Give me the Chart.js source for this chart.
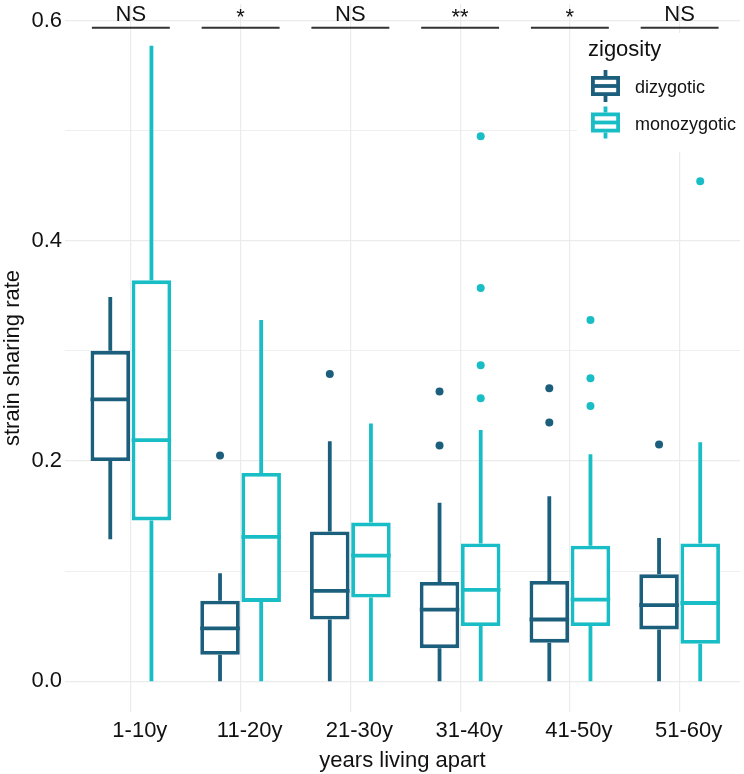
<!DOCTYPE html>
<html>
<head>
<meta charset="utf-8">
<script src="https://cdn.jsdelivr.net/npm/chart.js@4"></script>
<style>
  html, body { margin: 0; padding: 0; background: #fff; }
</style>
</head>
<body>
<canvas id="chart" width="744" height="774"></canvas>
<script>
/* boxplot: strain sharing rate by years living apart, split by zygosity */

const categories = ["1-10y", "11-20y", "21-30y", "31-40y", "41-50y", "51-60y"];
const signif = ["NS", "*", "NS", "**", "*", "NS"];

// dizygotic
const dzMin = [0.129, 0, 0, 0, 0, 0];
const dzQ1 = [0.200, 0.024, 0.056, 0.030, 0.035, 0.047];
const dzMed = [0.256, 0.048, 0.082, 0.065, 0.056, 0.069];
const dzQ3 = [0.300, 0.073, 0.136, 0.090, 0.091, 0.097];
const dzMax = [0.349, 0.098, 0.218, 0.162, 0.168, 0.130];
const dzOut = [[], [0.205], [0.279], [0.263, 0.214], [0.266, 0.235], [0.215]];

// monozygotic
const mzMin = [0, 0, 0, 0, 0, 0];
const mzQ1 = [0.146, 0.072, 0.076, 0.050, 0.050, 0.034];
const mzMed = [0.219, 0.131, 0.114, 0.083, 0.074, 0.071];
const mzQ3 = [0.364, 0.189, 0.144, 0.125, 0.123, 0.125];
const mzMax = [0.577, 0.328, 0.234, 0.228, 0.206, 0.217];
const mzOut = [[], [], [], [0.495, 0.357, 0.287, 0.257], [0.328, 0.275, 0.250], [0.454]];

const DZ_COLOR = "#1c5f7d";
const MZ_COLOR = "#19bdc5";
const GRID = "#ebebeb";
const FONT = "'Liberation Sans', Arial, sans-serif";
const LW = 3.8;
const DODGE = 0.1875; // half of a dodged slot, in category units

const groups = [
  { name: "dizygotic", color: DZ_COLOR, min: dzMin, q1: dzQ1, med: dzMed, q3: dzQ3, max: dzMax },
  { name: "monozygotic", color: MZ_COLOR, min: mzMin, q1: mzQ1, med: mzMed, q3: mzQ3, max: mzMax },
];

function boxData(q1, q3) {
  return q1.map((v, i) => ({ x: i + 1, y: [v, q3[i]] }));
}

function outlierData(out, shift) {
  const pts = [];
  out.forEach((list, i) => list.forEach((v) => pts.push({ x: i + 1 + shift, y: v })));
  return pts;
}

// whiskers, medians, significance bars and the legend
const boxplotPlugin = {
  id: "boxplot",
  beforeDatasetsDraw(chart) {
    const { ctx, scales: { y } } = chart;
    ctx.save();
    ctx.lineWidth = LW;
    ctx.lineCap = "butt";
    groups.forEach((g, d) => {
      ctx.strokeStyle = g.color;
      chart.getDatasetMeta(d).data.forEach((bar, i) => {
        ctx.beginPath();
        ctx.moveTo(bar.x, y.getPixelForValue(g.max[i]));
        ctx.lineTo(bar.x, y.getPixelForValue(g.q3[i]));
        ctx.moveTo(bar.x, y.getPixelForValue(g.q1[i]));
        ctx.lineTo(bar.x, y.getPixelForValue(g.min[i]));
        ctx.stroke();
      });
    });
    ctx.restore();
  },
  afterDatasetDraw(chart, args) {
    const g = groups[args.index];
    if (!g) return;
    const { ctx, scales: { y } } = chart;
    ctx.save();
    ctx.lineWidth = LW;
    ctx.strokeStyle = g.color;
    args.meta.data.forEach((bar, i) => {
      const py = y.getPixelForValue(g.med[i]);
      ctx.beginPath();
      ctx.moveTo(bar.x - bar.width / 2, py);
      ctx.lineTo(bar.x + bar.width / 2, py);
      ctx.stroke();
    });
    ctx.restore();
  },
  afterDraw(chart) {
    const { ctx, scales: { x, y } } = chart;
    ctx.save();

    // significance brackets
    const ly = y.getPixelForValue(0.5935);
    ctx.strokeStyle = "#333333";
    ctx.lineWidth = 2;
    ctx.fillStyle = "#111111";
    ctx.textAlign = "center";
    ctx.textBaseline = "alphabetic";
    ctx.font = `22px ${FONT}`;
    categories.forEach((c, i) => {
      ctx.beginPath();
      ctx.moveTo(x.getPixelForValue(i + 1 - 0.355), ly);
      ctx.lineTo(x.getPixelForValue(i + 1 + 0.355), ly);
      ctx.stroke();
      const star = signif[i].startsWith("*");
      ctx.fillText(signif[i], x.getPixelForValue(i + 1), star ? ly - 4 : ly - 7);
    });

    // legend
    ctx.fillStyle = "#ffffff";
    ctx.fillRect(577, 33, 167, 119);
    ctx.fillStyle = "#111111";
    ctx.textAlign = "left";
    ctx.font = `22px ${FONT}`;
    ctx.fillText("zigosity", 588, 56);
    ctx.font = `18px ${FONT}`;
    groups.forEach((g, k) => {
      const top = 70 + k * 36.5;
      const cx = 605.5;
      ctx.strokeStyle = g.color;
      ctx.lineWidth = LW;
      ctx.beginPath();
      ctx.moveTo(cx, top);
      ctx.lineTo(cx, top + 32);
      ctx.stroke();
      ctx.fillStyle = "#ffffff";
      ctx.fillRect(591, top + 6, 29, 20);
      ctx.strokeRect(591 + LW / 2, top + 6 + LW / 2, 29 - LW, 20 - LW);
      ctx.beginPath();
      ctx.moveTo(591, top + 16);
      ctx.lineTo(620, top + 16);
      ctx.stroke();
      ctx.fillStyle = "#111111";
      ctx.fillText(g.name, 635, top + 23);
    });
    ctx.restore();
  },
};

const tickFont = { family: FONT, size: 22 };

new Chart(document.getElementById("chart"), {
  type: "bar",
  data: {
    datasets: [
      {
        label: "dizygotic",
        data: boxData(dzQ1, dzQ3),
        backgroundColor: "#ffffff",
        borderColor: DZ_COLOR,
        borderWidth: LW,
        borderSkipped: false,
      },
      {
        label: "monozygotic",
        data: boxData(mzQ1, mzQ3),
        backgroundColor: "#ffffff",
        borderColor: MZ_COLOR,
        borderWidth: LW,
        borderSkipped: false,
      },
      {
        type: "scatter",
        label: "dizygotic outliers",
        data: outlierData(dzOut, -DODGE),
        pointRadius: 4,
        pointBorderWidth: 0,
        pointBackgroundColor: DZ_COLOR,
      },
      {
        type: "scatter",
        label: "monozygotic outliers",
        data: outlierData(mzOut, DODGE),
        pointRadius: 4,
        pointBorderWidth: 0,
        pointBackgroundColor: MZ_COLOR,
      },
    ],
  },
  options: {
    responsive: false,
    animation: false,
    categoryPercentage: 0.75,
    barPercentage: 0.96,
    layout: { padding: 0 },
    plugins: {
      legend: { display: false },
      tooltip: { enabled: false },
    },
    scales: {
      x: {
        type: "linear",
        min: 0.4,
        max: 6.55,
        offset: false,
        afterBuildTicks: (axis) => {
          axis.ticks = categories.map((c, i) => ({ value: i + 1 }));
        },
        afterFit: (axis) => {
          axis.height = 62;
          axis.paddingLeft = 0;
          axis.paddingRight = 0;
        },
        grid: { color: GRID, lineWidth: 1.2, drawTicks: false, offset: false },
        border: { display: false },
        ticks: {
          callback: (v) => categories[Math.round(v) - 1],
          font: tickFont,
          color: "#111111",
          padding: 6,
          labelOffset: 9,
          maxRotation: 0,
          autoSkip: false,
        },
        title: {
          display: true,
          text: "years living apart",
          font: tickFont,
          color: "#111111",
          padding: 0,
        },
      },
      y: {
        min: -0.028,
        max: 0.615,
        afterBuildTicks: (axis) => {
          axis.ticks = [0, 1, 2, 3, 4, 5, 6].map((k) => ({ value: k / 10 }));
        },
        afterFit: (axis) => {
          axis.width = 65;
          axis.paddingTop = 0;
          axis.paddingBottom = 0;
        },
        grid: {
          color: GRID,
          lineWidth: (ctx) => (ctx.index % 2 === 0 ? 1.3 : 0.8),
          drawTicks: false,
        },
        border: { display: false },
        ticks: {
          callback: (v, i) => (i % 2 === 0 ? v.toFixed(1) : ""),
          font: tickFont,
          color: "#111111",
          padding: 3,
          autoSkip: false,
        },
        title: {
          display: true,
          text: "strain sharing rate",
          font: tickFont,
          color: "#111111",
          padding: 0,
        },
      },
    },
  },
  plugins: [boxplotPlugin],
});
</script>
</body>
</html>
